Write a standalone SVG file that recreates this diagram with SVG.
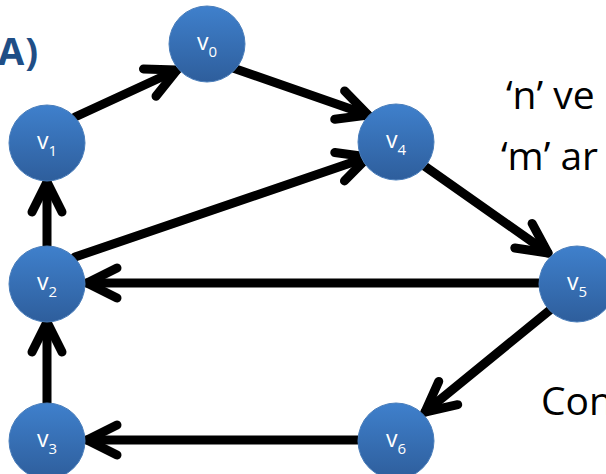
<svg xmlns="http://www.w3.org/2000/svg" width="606" height="474" viewBox="0 0 606 474">
<style>
.edge{fill:none;stroke:#000;stroke-width:9;stroke-linecap:round;marker-end:url(#arr)}
.node circle{fill:url(#g);stroke:#4A7EBB;stroke-width:1}
.node text{font-family:"Open Sans","Liberation Sans",sans-serif;font-size:23px;fill:#fff;text-anchor:middle}
.sub{font-size:15px}
.big{font-family:"Open Sans","Liberation Sans",sans-serif;font-size:39px;fill:#000}
</style>
<defs>
<linearGradient id="g" x1="0" y1="0" x2="0" y2="1">
<stop offset="0" stop-color="#3F80CC"/>
<stop offset="1" stop-color="#2E5E9C"/>
</linearGradient>
<marker id="arr" markerUnits="userSpaceOnUse" orient="auto" overflow="visible" markerWidth="1" markerHeight="1" refX="0" refY="0">
<path d="M-30,-15 L0,0 L-30,15" fill="none" stroke="#000" stroke-width="9" stroke-linecap="round" stroke-linejoin="round"/>
</marker>
</defs>
<text x="-2" y="65" font-family="'Open Sans','Liberation Sans',sans-serif" font-size="38" font-weight="bold" fill="#1F4E86" letter-spacing="1">A)</text>
<text class="big" x="506" y="109">‘n’ ve</text>
<text class="big" x="501" y="170">‘m’ ar</text>
<text class="big" x="541" y="415">Con</text>
<g id="connectors">
<path class="edge" d="M75,117 L177,70"/>
<path class="edge" d="M233,68 L368,115"/>
<path class="edge" d="M75,257 L368,157"/>
<path class="edge" d="M47,246 L47,182"/>
<path class="edge" d="M47,403 L47,322"/>
<path class="edge" d="M540,283 L87,283"/>
<path class="edge" d="M360,440 L87,440"/>
<path class="edge" d="M423,165 L548,253"/>
<path class="edge" d="M550,310 L425,412"/>
</g>
<g id="v0" class="node"><circle cx="207" cy="44" r="38"/><text x="207" y="50">v<tspan class="sub" dy="7">0</tspan></text></g>
<g id="v1" class="node"><circle cx="47" cy="143" r="38"/><text x="47" y="149">v<tspan class="sub" dy="7">1</tspan></text></g>
<g id="v2" class="node"><circle cx="47" cy="284" r="38"/><text x="47" y="290">v<tspan class="sub" dy="7">2</tspan></text></g>
<g id="v3" class="node"><circle cx="47" cy="441" r="38"/><text x="47" y="447">v<tspan class="sub" dy="7">3</tspan></text></g>
<g id="v4" class="node"><circle cx="396" cy="142" r="38"/><text x="396" y="148">v<tspan class="sub" dy="7">4</tspan></text></g>
<g id="v5" class="node"><circle cx="577" cy="284" r="38"/><text x="577" y="290">v<tspan class="sub" dy="7">5</tspan></text></g>
<g id="v6" class="node"><circle cx="396" cy="441" r="38"/><text x="396" y="447">v<tspan class="sub" dy="7">6</tspan></text></g>
</svg>
